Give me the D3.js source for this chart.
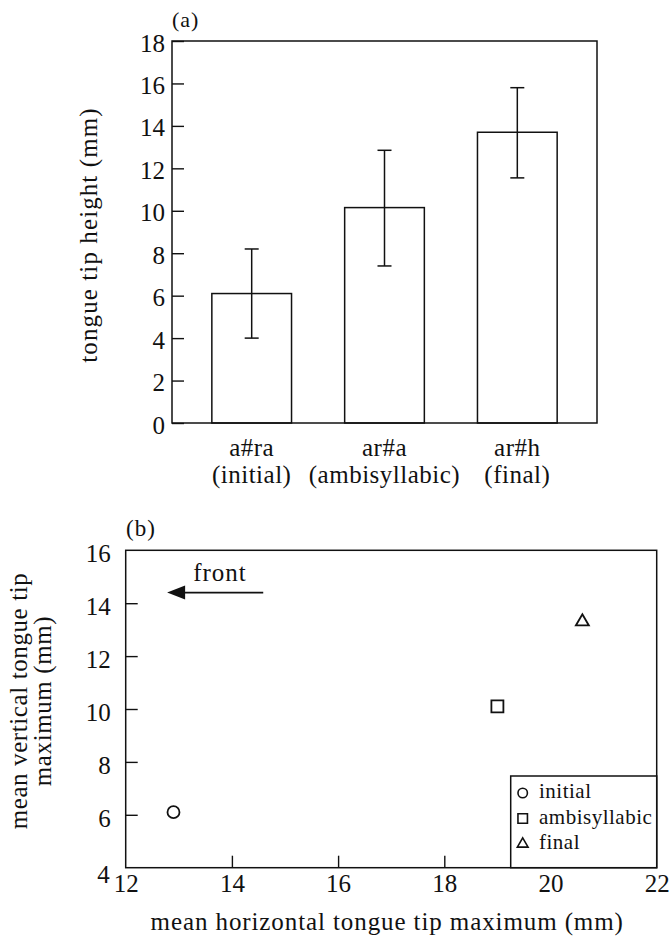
<!DOCTYPE html>
<html>
<head>
<meta charset="utf-8">
<script src="https://cdn.jsdelivr.net/npm/d3@7"></script>
<style>
  body { margin: 0; background: #fff; }
</style>
</head>
<body>
<div id="chart"></div>
<script>
// panel (a) data
const categories = ["a#ra", "ar#a", "ar#h"];
const positionLabels = ["(initial)", "(ambisyllabic)", "(final)"];
const tipHeight = [6.1, 10.15, 13.7];
const errLow = [4.0, 7.4, 11.55];
const errHigh = [8.2, 12.85, 15.8];
const yTicksA = [0, 2, 4, 6, 8, 10, 12, 14, 16, 18];

// panel (b) data
const groups = ["initial", "ambisyllabic", "final"];
const horizMax = [12.9, 19.0, 20.6];
const vertMax = [6.1, 10.1, 13.3];
const xTicksB = [12, 14, 16, 18, 20, 22];
const yTicksB = [4, 6, 8, 10, 12, 14, 16];

const ink = "#111";
const serif = "'Liberation Serif', 'Times New Roman', Times, serif";

const svg = d3.select("#chart")
    .append("svg")
    .attr("width", 670)
    .attr("height", 938)
    .style("font-family", serif);

// ---------- panel (a): bar chart ----------
const a = {left: 172, right: 597, top: 41, bottom: 423};

const xA = d3.scaleBand()
    .domain(categories)
    .range([a.left, a.right])
    .paddingInner(0.4)
    .paddingOuter(0.3);

const yA = d3.scaleLinear()
    .domain([0, 18])
    .range([a.bottom, a.top]);

// y axis with inward ticks
const axA = svg.append("g")
    .attr("transform", "translate(" + a.left + ",0)")
    .call(d3.axisLeft(yA).tickValues(yTicksA).tickSize(-12).tickSizeOuter(0).tickPadding(7));
axA.select(".domain").remove();
axA.attr("font-family", null).style("font-family", serif);
axA.selectAll(".tick line").attr("stroke", ink).attr("stroke-width", 1.4);
axA.selectAll(".tick text")
    .attr("dy", "0.4em")
    .style("font-size", "25px")
    .style("font-family", serif)
    .attr("fill", ink);

// bars
const barData = categories.map((c, i) => ({cat: c, v: tipHeight[i], lo: errLow[i], hi: errHigh[i]}));

svg.append("g")
    .selectAll("rect")
    .data(barData)
    .join("rect")
    .attr("x", d => xA(d.cat))
    .attr("y", d => yA(d.v))
    .attr("width", xA.bandwidth())
    .attr("height", d => yA(0) - yA(d.v))
    .attr("fill", "#fff")
    .attr("stroke", ink)
    .attr("stroke-width", 1.5);

// error bars
const eb = svg.append("g")
    .selectAll("g")
    .data(barData)
    .join("g")
    .attr("stroke", ink)
    .attr("stroke-width", 1.5);
eb.append("line")
    .attr("x1", d => xA(d.cat) + xA.bandwidth() / 2)
    .attr("x2", d => xA(d.cat) + xA.bandwidth() / 2)
    .attr("y1", d => yA(d.lo))
    .attr("y2", d => yA(d.hi));
eb.append("line")
    .attr("x1", d => xA(d.cat) + xA.bandwidth() / 2 - 7)
    .attr("x2", d => xA(d.cat) + xA.bandwidth() / 2 + 7)
    .attr("y1", d => yA(d.hi))
    .attr("y2", d => yA(d.hi));
eb.append("line")
    .attr("x1", d => xA(d.cat) + xA.bandwidth() / 2 - 7)
    .attr("x2", d => xA(d.cat) + xA.bandwidth() / 2 + 7)
    .attr("y1", d => yA(d.lo))
    .attr("y2", d => yA(d.lo));

// frame
svg.append("rect")
    .attr("x", a.left)
    .attr("y", a.top)
    .attr("width", a.right - a.left)
    .attr("height", a.bottom - a.top)
    .attr("fill", "none")
    .attr("stroke", ink)
    .attr("stroke-width", 1.5);

// category labels (two lines)
const catLabels = svg.append("g")
    .selectAll("text")
    .data(categories)
    .join("text")
    .attr("x", d => xA(d) + xA.bandwidth() / 2)
    .attr("y", 456)
    .attr("text-anchor", "middle")
    .attr("fill", ink)
    .style("font-family", serif)
    .style("font-size", "25px")
    .style("letter-spacing", "0.5px");
catLabels.append("tspan")
    .attr("x", d => xA(d) + xA.bandwidth() / 2)
    .text(d => d);
catLabels.append("tspan")
    .attr("x", d => xA(d) + xA.bandwidth() / 2)
    .attr("dy", 27)
    .text((d, i) => positionLabels[i]);

// y axis title
svg.append("text")
    .attr("transform", "translate(97," + ((a.top + a.bottom) / 2 + 3) + ") rotate(-90)")
    .attr("text-anchor", "middle")
    .attr("fill", ink)
    .style("font-family", serif)
    .style("font-size", "25px")
    .style("letter-spacing", "1.1px")
    .text("tongue tip height (mm)");

// panel label
svg.append("text")
    .attr("x", 172)
    .attr("y", 27)
    .attr("fill", ink)
    .style("font-family", serif)
    .style("font-size", "22px")
    .style("letter-spacing", "1px")
    .text("(a)");

// ---------- panel (b): scatter ----------
const b = {left: 125.7, right: 656.7, top: 550.3, bottom: 867.7};

const xB = d3.scaleLinear()
    .domain([12, 22])
    .range([b.left, b.right]);

const yB = d3.scaleLinear()
    .domain([4, 16])
    .range([b.bottom, b.top]);

const axBy = svg.append("g")
    .attr("transform", "translate(" + b.left + ",0)")
    .call(d3.axisLeft(yB).tickValues(yTicksB).tickSize(-12).tickSizeOuter(0).tickPadding(15));
axBy.select(".domain").remove();

const axBx = svg.append("g")
    .attr("transform", "translate(0," + b.bottom + ")")
    .call(d3.axisBottom(xB).tickValues(xTicksB).tickSize(-12).tickSizeOuter(0).tickPadding(7));
axBx.select(".domain").remove();

[axBy, axBx].forEach(g => {
    g.attr("font-family", null).style("font-family", serif);
    g.selectAll(".tick line").attr("stroke", ink).attr("stroke-width", 1.4);
    g.selectAll(".tick text")
        .style("font-size", "25px")
        .style("font-family", serif)
        .attr("fill", ink);
});
axBy.selectAll(".tick text").attr("dy", "0.45em");
// no tick marks at the frame corners
axBx.selectAll(".tick").filter(d => d === 22 || d === 12).select("line").remove();
axBy.selectAll(".tick").filter(d => d === 4 || d === 16).select("line").remove();
// the "4" in the corner sits slightly lower and left
axBy.selectAll(".tick").filter(d => d === 4).select("text").attr("dy", "0.6em").attr("x", -16);

// frame
svg.append("rect")
    .attr("x", b.left)
    .attr("y", b.top)
    .attr("width", b.right - b.left)
    .attr("height", b.bottom - b.top)
    .attr("fill", "none")
    .attr("stroke", ink)
    .attr("stroke-width", 1.5);

// markers
const symbols = [d3.symbolCircle, d3.symbolSquare, d3.symbolTriangle];
const symSize = [113, 144, 73];
const ptData = groups.map((g, i) => ({g: g, x: horizMax[i], y: vertMax[i], i: i}));

svg.append("g")
    .selectAll("path")
    .data(ptData)
    .join("path")
    .attr("transform", d => "translate(" + xB(d.x) + "," + yB(d.y) + ")")
    .attr("d", d => d3.symbol().type(symbols[d.i]).size(symSize[d.i])())
    .attr("fill", "none")
    .attr("stroke", ink)
    .attr("stroke-width", 1.8);

// "front" arrow annotation
const arrowY = 14.4;
svg.append("line")
    .attr("x1", xB(14.59))
    .attr("x2", xB(12.78) + 14)
    .attr("y1", yB(arrowY))
    .attr("y2", yB(arrowY))
    .attr("stroke", ink)
    .attr("stroke-width", 1.6);
svg.append("path")
    .attr("d", "M" + xB(12.78) + "," + yB(arrowY) +
        " L" + (xB(12.78) + 18) + "," + (yB(arrowY) - 7) +
        " L" + (xB(12.78) + 18) + "," + (yB(arrowY) + 7) + " Z")
    .attr("fill", ink);
svg.append("text")
    .attr("x", xB(13.27))
    .attr("y", 581)
    .attr("fill", ink)
    .style("font-family", serif)
    .style("font-size", "25px")
    .style("letter-spacing", "1px")
    .text("front");

// legend
const legend = svg.append("g");
legend.append("rect")
    .attr("x", 510.7)
    .attr("y", 776)
    .attr("width", b.right - 510.7)
    .attr("height", b.bottom - 776)
    .attr("fill", "#fff")
    .attr("stroke", ink)
    .attr("stroke-width", 1.5);
const legSize = [70, 90, 50];
const legItems = legend.selectAll(".legend-item")
    .data(groups)
    .join("g")
    .attr("class", "legend-item")
    .attr("transform", (d, i) => "translate(0," + (798 + i * 25.5) + ")");
legItems.append("path")
    .attr("transform", "translate(522.7,-5)")
    .attr("d", (d, i) => d3.symbol().type(symbols[i]).size(legSize[i])())
    .attr("fill", "none")
    .attr("stroke", ink)
    .attr("stroke-width", 1.6);
legItems.append("text")
    .attr("x", 539)
    .attr("y", 0)
    .attr("fill", ink)
    .style("font-family", serif)
    .style("font-size", "21px")
    .style("letter-spacing", "0.5px")
    .text(d => d);

// axis titles
svg.append("text")
    .attr("x", (b.left + b.right) / 2 - 4)
    .attr("y", 930)
    .attr("text-anchor", "middle")
    .attr("fill", ink)
    .style("font-family", serif)
    .style("font-size", "25px")
    .style("letter-spacing", "0.9px")
    .text("mean horizontal tongue tip maximum (mm)");

const yTitle = svg.append("text")
    .attr("transform", "translate(0,701) rotate(-90)")
    .attr("text-anchor", "middle")
    .attr("fill", ink)
    .style("font-family", serif)
    .style("font-size", "25px")
    .style("letter-spacing", "0.6px");
yTitle.append("tspan").attr("x", 0).attr("y", 27).text("mean vertical tongue tip");
yTitle.append("tspan").attr("x", 0).attr("y", 51).text("maximum (mm)");

// panel label
svg.append("text")
    .attr("x", 126)
    .attr("y", 536)
    .attr("fill", ink)
    .style("font-family", serif)
    .style("font-size", "23px")
    .style("letter-spacing", "1px")
    .text("(b)");
</script>
</body>
</html>
